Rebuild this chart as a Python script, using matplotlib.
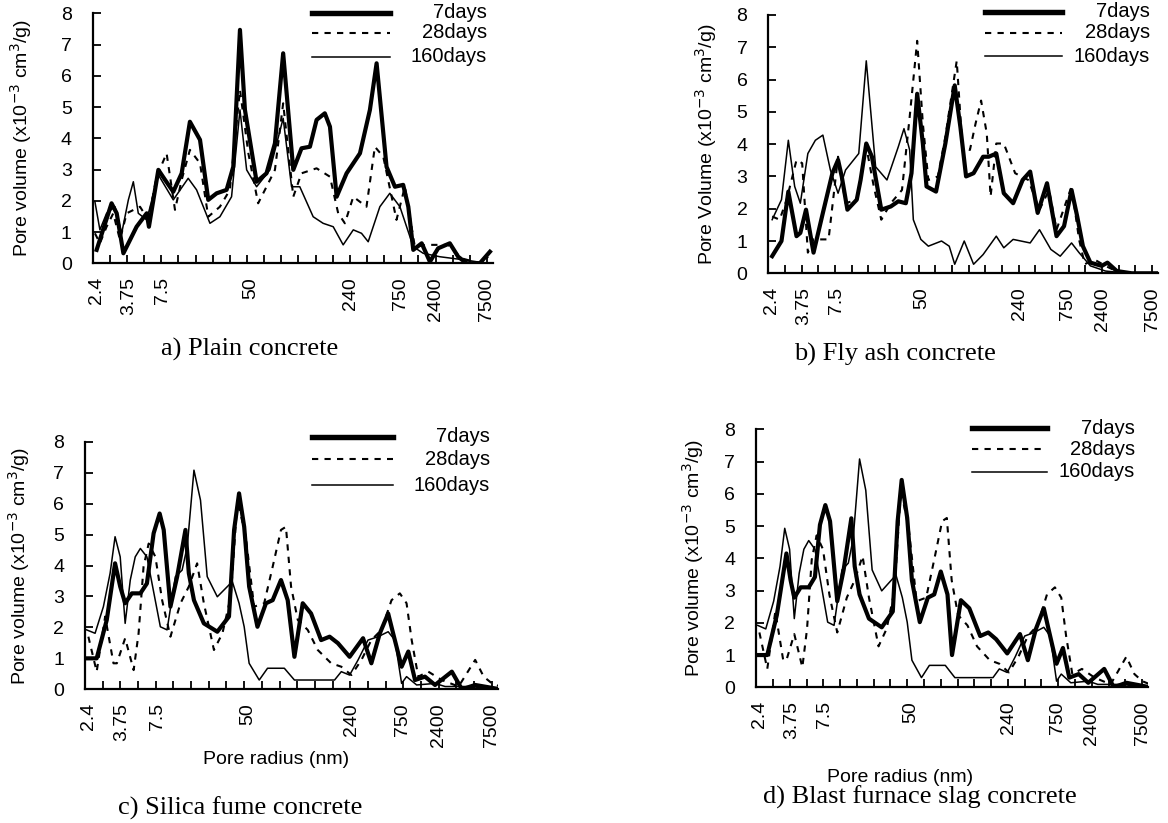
import matplotlib
matplotlib.use("Agg")
import matplotlib.pyplot as plt
from matplotlib.lines import Line2D

# ---------------- data ----------------
# x values are positions on the (index-like) pore-radius axis, 0 .. 23.35
tick_labels = ["2.4", "3.75", "7.5", "50", "240", "750", "2400", "7500"]
tick_label_pos = [0.2, 2.1, 4.1, 9.2, 15.05, 17.95, 20.0, 23.0]
series_names = ["7days", "28days", "160days"]

# a) Plain concrete
a7_x = [0.23, 1.10, 1.40, 1.79, 2.18, 2.56, 3.15, 3.28, 3.83, 4.22, 4.70, 5.19, 5.67, 6.26, 6.74, 7.23, 7.81, 8.20, 8.59, 8.88,
        9.56, 10.14, 10.63, 11.11, 11.70, 12.18, 12.67, 13.06, 13.54, 13.84, 14.23, 14.81, 15.59, 16.17, 16.56, 17.14, 17.63,
        18.11, 18.41, 18.70, 19.19, 19.67, 20.15, 20.83, 21.32, 21.81, 22.58, 23.17]
a7_y = [0.43, 1.92, 1.60, 0.32, 0.75, 1.17, 1.60, 1.17, 2.99, 2.67, 2.29, 2.88, 4.53, 3.95, 2.03, 2.24, 2.35, 3.09, 7.47, 4.91,
        2.61, 2.88, 3.84, 6.72, 2.99, 3.68, 3.73, 4.59, 4.80, 4.37, 2.13, 2.88, 3.52, 4.91, 6.40, 3.09, 2.45,
        2.51, 1.81, 0.43, 0.64, 0.05, 0.48, 0.64, 0.21, 0.0, 0.0, 0.37]
a28_x = [0.13, 0.42, 0.81, 1.20, 1.59, 1.98, 2.76, 3.24, 3.73, 4.31, 4.80, 5.19, 5.67, 6.26, 6.74, 7.42, 8.00, 8.59, 9.08, 9.65,
         10.14, 10.63, 11.11, 11.70, 12.18, 13.06, 13.84, 14.32, 14.71, 15.20, 15.97, 16.46, 16.95, 17.72, 18.21, 18.79,
         19.47, 20.74, 21.51, 22.58, 23.07]
a28_y = [0.96, 0.64, 1.17, 1.60, 0.75, 1.60, 1.81, 1.39, 2.77, 3.52, 1.71, 2.67, 3.63, 3.20, 1.49, 1.81, 2.35, 5.55, 3.52, 1.92,
         2.45, 2.99, 5.12, 2.13, 2.88, 3.04, 2.77, 1.60, 1.28, 2.13, 1.81, 3.73, 3.41, 1.39, 2.45, 0.53,
         0.59, 0.59, 0.16, 0.0, 0.21]
a160_x = [0.13, 0.42, 0.81, 1.30, 1.69, 2.08, 2.37, 2.66, 3.15, 3.83, 4.70, 5.57, 6.06, 6.84, 7.42, 8.10, 8.59, 8.98, 9.56,
          10.34, 11.11, 11.60, 12.08, 12.86, 13.44, 14.03, 14.61, 15.20, 15.68, 16.07, 16.75, 17.33, 17.92, 18.70, 19.28,
          20.25, 21.81, 22.97]
a160_y = [1.97, 1.07, 1.60, 1.81, 0.96, 2.03, 2.61, 1.60, 1.39, 2.83, 2.03, 2.72, 2.35, 1.28, 1.49, 2.13, 4.91, 2.99, 2.45,
          2.99, 4.64, 2.45, 2.45, 1.49, 1.28, 1.17, 0.59, 1.07, 0.96, 0.69, 1.81, 2.24, 1.81, 0.53, 0.32,
          0.21, 0.10, 0.0]

# b) Fly ash concrete
b7_x = [0.23, 0.79, 1.20, 1.69, 1.92, 2.26, 2.71, 3.27, 3.84, 4.18, 4.40, 4.74, 5.30, 5.53, 5.87, 6.21, 6.77, 7.34, 7.79, 8.24,
        8.58, 8.92, 9.26, 9.48, 10.05, 10.61, 11.17, 11.51, 11.85, 12.30, 12.87, 13.21, 13.66, 14.11, 14.67, 15.24, 15.69,
        16.14, 16.70, 17.27, 17.72, 18.17, 18.51, 18.85, 19.30, 19.98, 20.32, 20.88, 21.78, 23.36]
b7_y = [0.53, 1.00, 2.53, 1.15, 1.25, 1.97, 0.64, 1.87, 3.10, 3.51, 3.00, 1.97, 2.28, 2.89, 4.02, 3.61, 1.97, 2.07, 2.23, 2.17,
        3.10, 5.56, 4.02, 2.69, 2.53, 4.02, 5.82, 4.53, 3.00, 3.10, 3.61, 3.61, 3.71, 2.48, 2.17, 2.89, 3.15,
        1.87, 2.79, 1.15, 1.46, 2.58, 1.76, 0.84, 0.33, 0.23, 0.33, 0.07, 0.0, 0.0]
b28_x = [0.23, 0.68, 1.10, 1.69, 2.03, 2.37, 2.71, 3.16, 3.61, 4.18, 4.63, 5.30, 5.87, 6.32, 6.77, 7.34, 8.01, 8.47, 8.92, 9.26,
         9.59, 10.16, 10.61, 11.29, 11.63, 12.08, 12.42, 12.75, 13.09, 13.32, 13.66, 14.11, 14.79, 15.58, 16.25, 16.82,
         17.27, 18.17, 18.62, 18.96, 19.53, 20.20, 21.11, 23.36]
b28_y = [1.76, 1.66, 2.28, 3.51, 3.41, 0.64, 1.05, 1.05, 1.05, 3.61, 2.17, 2.28, 3.92, 2.69, 1.66, 2.17, 2.58, 4.84, 7.20, 4.64,
         2.89, 3.00, 4.23, 6.58, 3.92, 3.82, 4.64, 5.35, 4.33, 2.38, 4.02, 4.02, 3.10, 2.89, 1.97, 2.58,
         1.35, 2.69, 1.05, 0.28, 0.43, 0.23, 0.0, 0.0]
b160_x = [0.23, 0.79, 1.20, 1.58, 1.92, 2.37, 2.82, 3.27, 3.72, 4.18, 4.63, 5.42, 5.87, 6.43, 7.11, 7.79, 8.13, 8.47, 8.69,
          9.14, 9.59, 10.38, 10.84, 11.17, 11.74, 12.30, 12.87, 13.66, 14.11, 14.67, 15.69, 16.25, 16.93, 17.49, 18.17,
          18.62, 19.30, 20.20, 21.56, 23.36]
b160_y = [1.66, 2.28, 4.12, 2.69, 2.17, 3.71, 4.12, 4.28, 3.20, 2.48, 3.20, 3.71, 6.58, 3.30, 2.89, 3.92, 4.48, 3.82, 1.66,
          1.05, 0.84, 1.00, 0.84, 0.28, 1.00, 0.28, 0.58, 1.15, 0.79, 1.05, 0.94, 1.35, 0.74, 0.53, 0.94,
          0.64, 0.23, 0.07, 0.0, 0.0]

# c) Silica fume concrete
c7_x = [0.09, 0.66, 1.23, 1.70, 1.99, 2.27, 2.65, 3.13, 3.50, 3.88, 4.22, 4.45, 4.83, 5.21, 5.68, 5.87, 6.16, 6.72, 7.48, 8.14,
        8.43, 8.71, 9.00, 9.28, 9.75, 10.23, 10.61, 11.08, 11.46, 11.84, 12.31, 12.78, 13.35, 13.83, 14.30, 14.96, 15.72,
        16.19, 16.67, 17.14, 17.42, 17.90, 18.28, 18.66, 19.22, 19.79, 20.74, 21.31, 22.06, 23.48]
c7_y = [1.00, 1.00, 2.24, 4.07, 3.32, 2.78, 3.10, 3.10, 3.42, 5.04, 5.68, 5.15, 2.67, 3.64, 5.15, 3.75, 2.88, 2.13, 1.86, 2.35,
        5.15, 6.33, 5.25, 3.32, 2.02, 2.78, 2.88, 3.53, 2.88, 1.05, 2.78, 2.45, 1.59, 1.70, 1.49, 1.05, 1.65,
        0.84, 1.81, 2.45, 1.81, 0.73, 1.22, 0.30, 0.41, 0.14, 0.57, 0.0, 0.14, 0.0]
c28_x = [0.19, 0.66, 1.14, 1.61, 1.80, 2.27, 2.75, 3.03, 3.31, 3.60, 3.98, 4.36, 4.83, 5.40, 5.87, 6.34, 6.72, 7.29, 7.77, 8.24,
         8.62, 9.09, 9.56, 10.13, 10.61, 11.08, 11.36, 11.65, 12.03, 12.59, 13.16, 13.92, 14.49, 15.06, 15.63, 16.19, 16.76,
         17.33, 17.80, 18.18, 18.47, 18.84, 19.41, 20.17, 21.12, 21.59, 22.06, 22.54, 23.01, 23.48]
c28_y = [1.70, 0.57, 2.35, 0.84, 0.84, 1.65, 0.62, 1.81, 3.96, 4.71, 4.28, 2.88, 1.70, 2.78, 3.32, 4.07, 2.78, 1.27, 1.81, 2.99,
         6.11, 4.93, 2.67, 2.78, 3.96, 5.15, 5.25, 3.32, 2.24, 1.92, 1.27, 0.84, 0.73, 0.46, 0.95, 1.59, 1.92,
         2.88, 3.10, 2.78, 1.59, 0.41, 0.57, 0.30, 0.09, 0.52, 0.95, 0.41, 0.19, 0.09]
c160_x = [0.09, 0.57, 1.04, 1.42, 1.70, 1.99, 2.27, 2.56, 2.84, 3.13, 3.50, 3.79, 4.26, 4.64, 5.11, 5.49, 5.78, 6.16, 6.53,
          6.91, 7.48, 8.05, 8.33, 8.71, 9.00, 9.28, 9.85, 10.32, 11.27, 11.84, 14.11, 14.49, 14.96, 15.44, 16.00, 16.57,
          17.14, 17.52, 17.90, 18.18, 18.75, 19.79, 20.36, 21.69, 23.48]
c160_y = [1.92, 1.81, 2.67, 3.75, 4.93, 4.28, 2.13, 3.53, 4.28, 4.55, 4.28, 3.42, 2.02, 1.92, 3.64, 3.85, 4.61, 7.08, 6.11,
          3.64, 2.99, 3.32, 3.48, 2.78, 2.02, 0.84, 0.30, 0.68, 0.68, 0.30, 0.30, 0.57, 0.46, 0.95, 1.59, 1.70,
          1.86, 1.59, 0.19, 0.41, 0.14, 0.19, 0.09, 0.09, 0.0]

# d) Blast furnace slag concrete
d7_x = [0.09, 0.66, 1.23, 1.80, 2.05, 2.27, 2.65, 3.13, 3.50, 3.80, 4.12, 4.40, 4.83, 5.21, 5.67, 5.87, 6.16, 6.72, 7.48, 8.14,
        8.43, 8.67, 9.00, 9.28, 9.75, 10.23, 10.61, 11.00, 11.40, 11.67, 12.20, 12.70, 13.35, 13.83, 14.30, 14.96, 15.72,
        16.19, 16.67, 17.14, 17.42, 17.90, 18.28, 18.66, 19.22, 19.79, 20.74, 21.31, 22.06, 23.48]
d7_y = [1.00, 1.00, 2.24, 4.15, 3.32, 2.78, 3.10, 3.10, 3.42, 5.04, 5.65, 5.15, 2.67, 3.64, 5.24, 3.75, 2.88, 2.13, 1.86, 2.35,
        5.15, 6.43, 5.25, 3.32, 2.02, 2.78, 2.88, 3.59, 2.88, 1.00, 2.70, 2.45, 1.59, 1.70, 1.49, 1.05, 1.65,
        0.84, 1.81, 2.45, 1.81, 0.73, 1.22, 0.30, 0.41, 0.14, 0.57, 0.0, 0.14, 0.0]
d28_x = list(c28_x)
d28_y = list(c28_y)
d160_x = list(c160_x)
d160_y = list(c160_y)

panels = [
    dict(key="a", caption="a) Plain concrete", ylabel="Pore volume (x10$^{-3}$ cm$^{3}$/g)", xlabel=None,
         data=[(a7_x, a7_y), (a28_x, a28_y), (a160_x, a160_y)]),
    dict(key="b", caption="b) Fly ash concrete", ylabel="Pore Volume (x10$^{-3}$ cm$^{3}$/g)", xlabel=None,
         data=[(b7_x, b7_y), (b28_x, b28_y), (b160_x, b160_y)]),
    dict(key="c", caption="c) Silica fume concrete", ylabel="Pore volume (x10$^{-3}$ cm$^{3}$/g)", xlabel="Pore radius (nm)",
         data=[(c7_x, c7_y), (c28_x, c28_y), (c160_x, c160_y)]),
    dict(key="d", caption="d) Blast furnace slag concrete", ylabel="Pore volume (x10$^{-3}$ cm$^{3}$/g)", xlabel="Pore radius (nm)",
         data=[(d7_x, d7_y), (d28_x, d28_y), (d160_x, d160_y)]),
]

# ---------------- layout (pixels) ----------------
W, H = 1168, 823
# left, right, top, bottom
boxes = {"a": (92.7, 493, 13.3, 263.3), "b": (768.3, 1158, 15, 273.3),
         "c": (85, 498, 441.7, 689.3), "d": (756.2, 1148, 429.3, 687.3)}
ylabel_off = {"a": 59, "b": 49, "c": 53, "d": 50}   # px from spine to label's right edge
legend_geo = {  # x0, x1, text_right, rows (axes fraction)
    "a": (0.548, 0.743, 0.985, (1.002, 0.922, 0.826)),
    "b": (0.556, 0.753, 0.980, (1.013, 0.931, 0.841)),
    "c": (0.550, 0.745, 0.980, (1.020, 0.929, 0.825)),
    "d": (0.551, 0.742, 0.967, (1.004, 0.922, 0.836)),
}
captions_pos = {"a": (250, 349), "b": (895, 354), "c": (240, 808), "d": (920, 797)}
xlabel_pos = {"c": (276, 760), "d": (900, 777)}

styles = [dict(color="black", lw=3.0, ls="-"),
          dict(color="black", lw=1.5, ls=(0, (3, 3))),
          dict(color="black", lw=1.1, ls="-")]

plt.rcParams["font.family"] = ["Liberation Sans", "DejaVu Sans"]
fig = plt.figure(figsize=(W / 100, H / 100), dpi=100)

for p in panels:
    L, R, T, B = boxes[p["key"]]
    ax = fig.add_axes([L / W, 1 - B / H, (R - L) / W, (B - T) / H])
    for (xs, ys), st in zip(p["data"], styles):
        ax.plot(xs, ys, solid_joinstyle="round", **st)
    ax.set_xlim(0, 23.35)
    ax.set_ylim(0, 8)
    for s in ("top", "right"):
        ax.spines[s].set_visible(False)
    for s in ("left", "bottom"):
        ax.spines[s].set_linewidth(1.6)
    ax.set_yticks(range(0, 9))
    ax.tick_params(axis="y", direction="in", length=6, width=1.3, pad=15, labelsize=14)
    ax.xaxis.remove_overlapping_locs = False
    ax.set_xticks(range(1, 24))
    ax.set_xticklabels([])
    ax.tick_params(axis="x", which="major", direction="in", length=6, width=1.3)
    ax.set_xticks(tick_label_pos, minor=True)
    ax.set_xticklabels(tick_labels, minor=True, rotation=90, va="top", ha="center")
    ax.tick_params(axis="x", which="minor", length=0, pad=10, labelsize=14)
    ax.set_ylabel(p["ylabel"], fontsize=14)
    ax.yaxis.set_label_coords(-ylabel_off[p["key"]] / (R - L), 0.5)
    # legend drawn manually, text right-aligned
    x0, x1, xr, rows = legend_geo[p["key"]]
    for name, st, yy in zip(series_names, styles, rows):
        lw = st["lw"] * (1.3 if st["lw"] > 2 else 1.0)
        ax.add_line(Line2D([x0, x1], [yy, yy], transform=ax.transAxes, color="black",
                           lw=lw, ls=st["ls"], clip_on=False))
        ax.text(xr, yy, name, transform=ax.transAxes, ha="right", va="center", fontsize=14.5)
    cx, cy = captions_pos[p["key"]]
    fig.text(cx / W, 1 - cy / H, p["caption"], ha="center", va="center",
             fontsize=19, family=["Liberation Serif", "DejaVu Serif"])
    if p["xlabel"]:
        lx, ly = xlabel_pos[p["key"]]
        fig.text(lx / W, 1 - ly / H, p["xlabel"], ha="center", va="center", fontsize=14)

fig.savefig("out.png", dpi=100)
